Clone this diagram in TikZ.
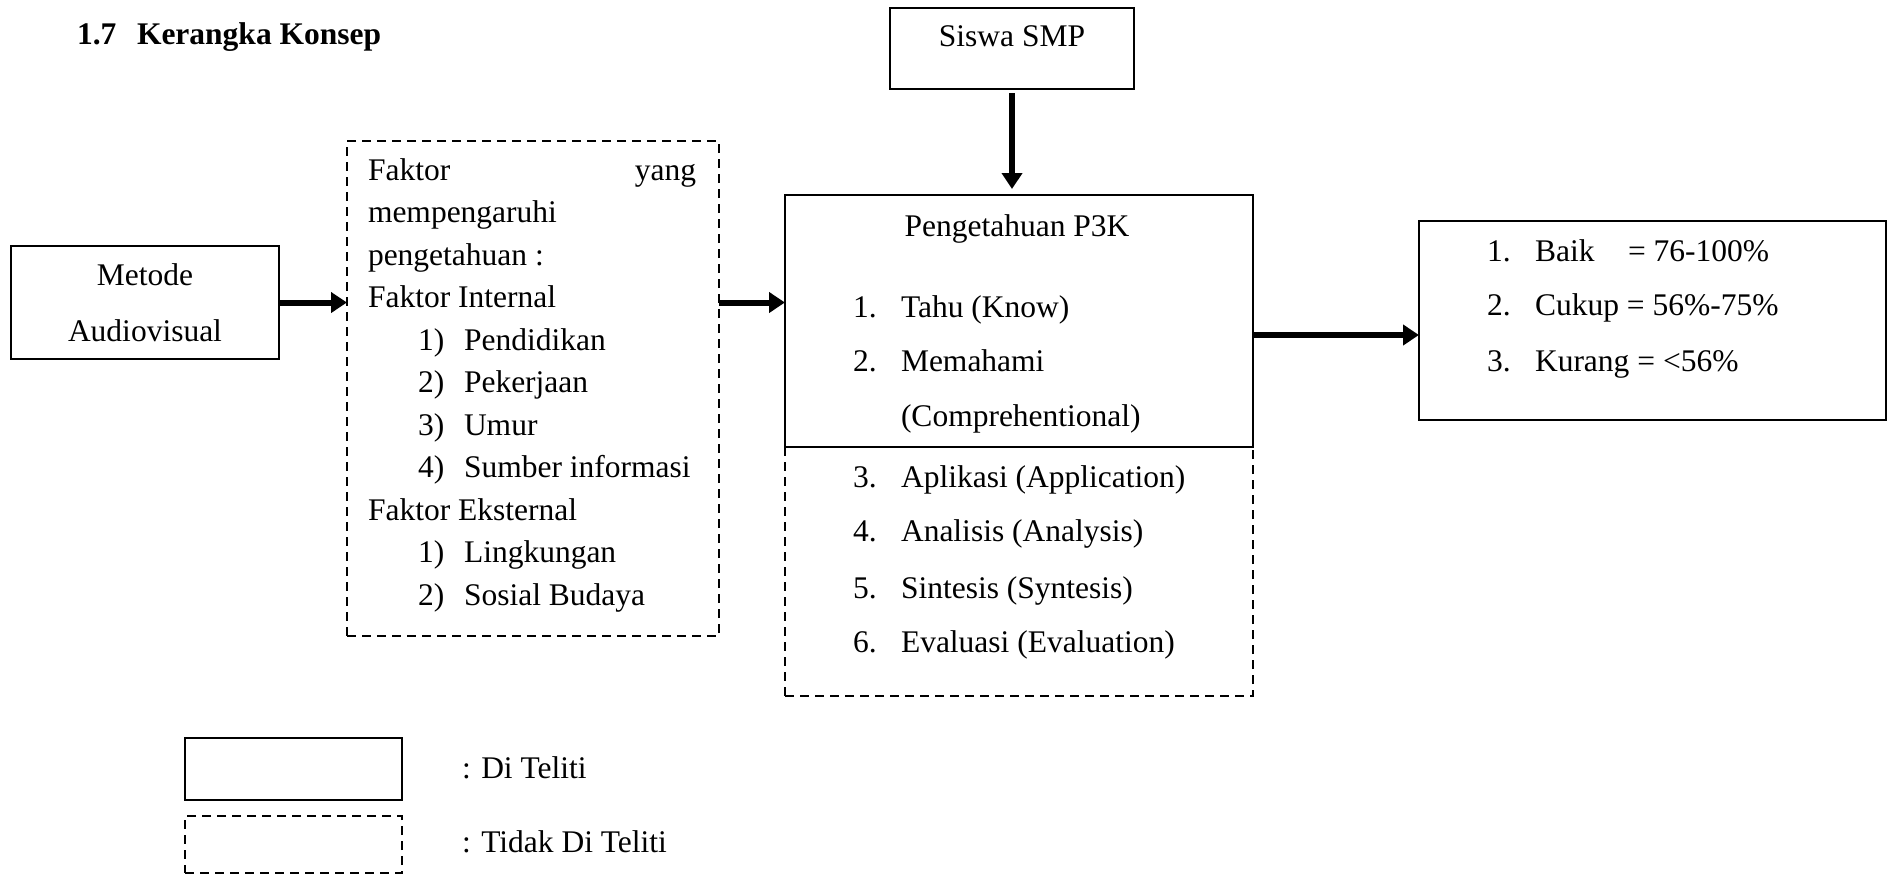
\documentclass[tikz,border=0pt]{standalone}
\usepackage{fontspec}
\setmainfont{Liberation Serif}
\usetikzlibrary{arrows.meta}
\begin{document}
\begin{tikzpicture}[x=1pt,y=-1pt,
  every node/.style={font=\fontsize{31.5}{38}\selectfont, inner sep=0pt, outer sep=0pt},
  txt/.style={anchor=base west},
  ctxt/.style={anchor=base},
  box/.style={draw, line width=1.8pt},
  dbox/.style={draw, line width=1.8pt, dash pattern=on 9pt off 6pt},
  arr/.style={line width=6pt, -{Triangle[length=16pt,width=20pt]}}]
\useasboundingbox (0,0) rectangle (1891,878);

% boxes
\node[box, minimum width=268pt, minimum height=113pt] (metode) at (145,302.5) {};
\node[dbox, minimum width=372pt, minimum height=495pt] (faktor) at (533,388.5) {};
\node[box, minimum width=244pt, minimum height=81pt] (siswa) at (1012,48.5) {};
\node[dbox, minimum width=468pt, minimum height=249pt] (pengd) at (1019,571.5) {};
\node[box, fill=white, minimum width=468pt, minimum height=252pt] (peng) at (1019,321) {};
\node[box, minimum width=467pt, minimum height=199pt] (hasil) at (1652.5,320.5) {};
\node[box, minimum width=217pt, minimum height=62pt] (leg1) at (293.5,769) {};
\node[dbox, minimum width=217pt, minimum height=57pt] (leg2) at (293.5,844.5) {};

% title
\node[txt, font=\fontsize{31.5}{38}\selectfont\bfseries] (title1) at (77,44) {1.7};
\node[txt, font=\fontsize{31.5}{38}\selectfont\bfseries] (title2) at (137,44) {Kerangka Konsep};

% siswa
\node[ctxt] (siswat) at (1012,46) {Siswa SMP};

% metode
\node[ctxt] (met1) at (145,285) {Metode};
\node[ctxt] (met2) at (145,341) {Audiovisual};

% faktor
\node[txt] (f1) at (368,180) {Faktor};
\node[anchor=base east] (f1b) at (696,180) {yang};
\node[txt] (f2) at (368,222.5) {mempengaruhi};
\node[txt] (f3) at (368,265) {pengetahuan :};
\node[txt] (f4) at (368,307.5) {Faktor Internal};
\node[txt] (f5n) at (418,350) {1)};
\node[txt] (f5) at (464,350) {Pendidikan};
\node[txt] (f6n) at (418,392.5) {2)};
\node[txt] (f6) at (464,392.5) {Pekerjaan};
\node[txt] (f7n) at (418,435) {3)};
\node[txt] (f7) at (464,435) {Umur};
\node[txt] (f8n) at (418,477.5) {4)};
\node[txt] (f8) at (464,477.5) {Sumber informasi};
\node[txt] (f9) at (368,520) {Faktor Eksternal};
\node[txt] (f10n) at (418,562.5) {1)};
\node[txt] (f10) at (464,562.5) {Lingkungan};
\node[txt] (f11n) at (418,605) {2)};
\node[txt] (f11) at (464,605) {Sosial Budaya};

% pengetahuan
\node[ctxt] (pt) at (1017,236) {Pengetahuan P3K};
\node[txt] (p1n) at (853,317) {1.};
\node[txt] (p1) at (901,317) {Tahu (Know)};
\node[txt] (p2n) at (853,371) {2.};
\node[txt] (p2) at (901,371) {Memahami};
\node[txt] (p2b) at (901,426) {(Comprehentional)};
\node[txt] (p3n) at (853,487) {3.};
\node[txt] (p3) at (901,487) {Aplikasi (Application)};
\node[txt] (p4n) at (853,541) {4.};
\node[txt] (p4) at (901,541) {Analisis (Analysis)};
\node[txt] (p5n) at (853,598) {5.};
\node[txt] (p5) at (901,598) {Sintesis (Syntesis)};
\node[txt] (p6n) at (853,652) {6.};
\node[txt] (p6) at (901,652) {Evaluasi (Evaluation)};

% hasil
\node[txt] (h1n) at (1487,261) {1.};
\node[txt] (h1) at (1535,261) {Baik};
\node[txt] (h1b) at (1628,261) {= 76-100\%};
\node[txt] (h2n) at (1487,315) {2.};
\node[txt] (h2) at (1535,315) {Cukup = 56\%-75\%};
\node[txt] (h3n) at (1487,371) {3.};
\node[txt] (h3) at (1535,371) {Kurang = <56\%};

% legend
\node[txt] (l1) at (462,778) {: Di Teliti};
\node[txt] (l2) at (462,852) {: Tidak Di Teliti};

% arrows
\draw[arr] (metode.east) -- (metode.east -| faktor.west);
\draw[arr] (faktor.east |- metode.east) -- (peng.west |- metode.east);
\draw[arr] ([yshift=-14pt]peng.east) -- ([yshift=-14pt]peng.east -| hasil.west);
\draw[arr] ([yshift=-4pt]siswa.south) -- ([yshift=6pt]siswa.south |- peng.north);
\end{tikzpicture}
\end{document}
